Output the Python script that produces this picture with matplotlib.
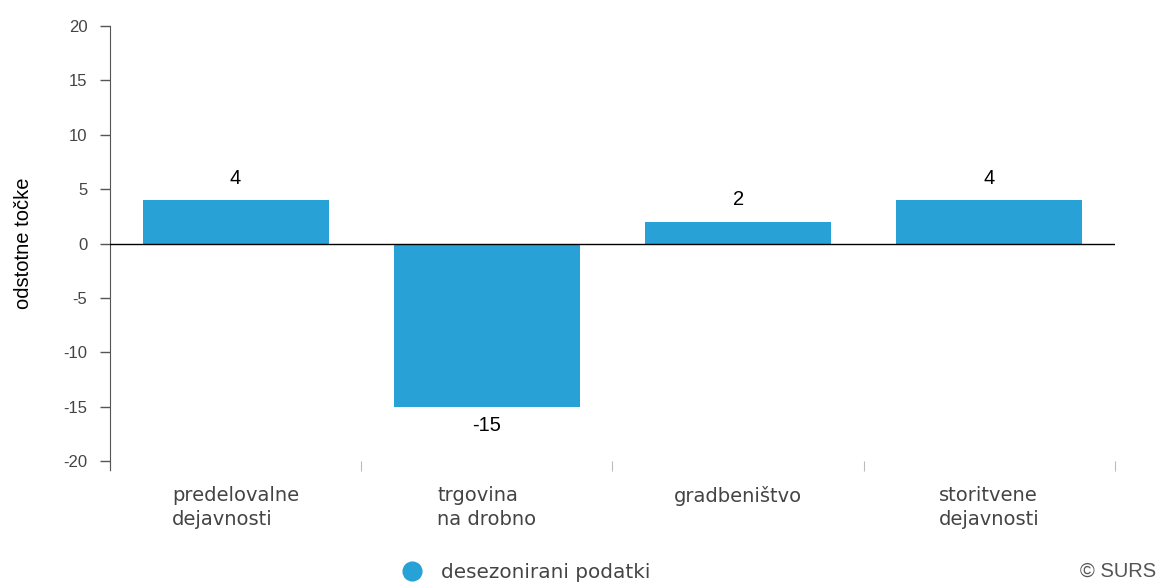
import matplotlib
matplotlib.use("Agg")
import matplotlib.pyplot as plt
from matplotlib.lines import Line2D
import numpy as np

categories = ["predelovalne\ndejavnosti", "trgovina\nna drobno", "gradbeništvo", "storitvene\ndejavnosti"]
values = [4, -15, 2, 4]
y_ticks = [-20, -15, -10, -5, 0, 5, 10, 15, 20]
series_name = "desezonirani podatki"

bar_color = "#27a1d6"
grey = "#444444"

fig = plt.figure(figsize=(11.6, 5.82), dpi=100)
ax = fig.add_axes([0.0948, 0.2079, 0.9612 - 0.0948, 0.9553 - 0.2079])

x = np.arange(len(values))
ax.bar(x, values, width=0.74, color=bar_color, zorder=2)
ax.axhline(0, color="black", lw=1, zorder=3)

ax.set_xlim(-0.5, len(values) - 0.5)
ax.set_ylim(-20, 20)
ax.set_yticks(y_ticks)
ax.set_yticklabels([str(t) for t in y_ticks], fontfamily="Liberation Sans", fontsize=12, color=grey)
ax.tick_params(axis="y", length=7.2, width=1, color="#555555", pad=9)

# category boundary ticks
ax.set_xticks(np.arange(len(values) + 1) - 0.5)
ax.set_xticklabels([])
ax.tick_params(axis="x", length=7, width=0.8, color="#bbbbbb", direction="out", pad=0)

for s in ["top", "right", "bottom"]:
    ax.spines[s].set_visible(False)
ax.spines["left"].set_color("#555555")
ax.spines["left"].set_bounds(-20.8, 20)

# category labels
for i, c in enumerate(categories):
    ax.annotate(c, xy=(i, -20), xycoords="data", xytext=(0, -18), textcoords="offset points",
                ha="center", va="top", multialignment="left", fontsize=14,
                fontfamily="DejaVu Sans", color=grey, linespacing=1.3)

# value labels
for i, v in enumerate(values):
    off = 9 if v >= 0 else -7
    ax.annotate(str(v), xy=(i, v), xytext=(0, off), textcoords="offset points",
                ha="center", va="bottom" if v >= 0 else "top", fontsize=14.5,
                fontfamily="Liberation Sans", color="black")

ax.set_ylabel("odstotne točke", fontfamily="Liberation Sans", fontsize=14.5, color="black", labelpad=22)

# legend
fig.add_artist(Line2D([412.5 / 1160], [1 - 571 / 582], marker="o", markersize=13.5,
                      color=bar_color, transform=fig.transFigure))
fig.text(441 / 1160, 1 - 571 / 582, series_name, fontsize=14.4, color=grey, ha="left",
         va="center_baseline", fontfamily="DejaVu Sans")
fig.text(1156 / 1160, 1 - 562 / 582, "© SURS", fontsize=14.5, color="#555555", ha="right", va="top",
         fontfamily="Liberation Sans")

fig.savefig("out.png", dpi=100)
